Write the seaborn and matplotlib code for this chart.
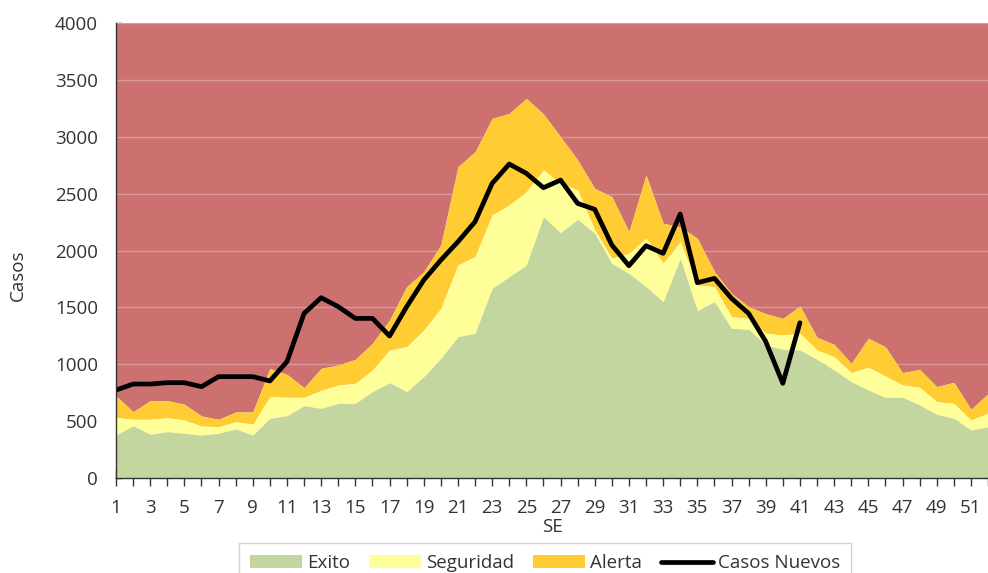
import numpy as np
import pandas as pd
import matplotlib
matplotlib.use("Agg")
import matplotlib.pyplot as plt
import seaborn as sns
from matplotlib.patches import Patch
from matplotlib.lines import Line2D

# ---- data (cumulative tops of the epidemic channel) ----
semanas = list(range(1, 53))
exito = [378, 460, 384, 407, 393, 378, 393, 431, 378, 524, 548, 636, 612, 656, 656, 759,
         838, 759, 891, 1052, 1242, 1272, 1667, 1770, 1872, 2297, 2156, 2274, 2151, 1887,
         1799, 1682, 1550, 1931, 1471, 1550, 1316, 1307, 1170, 1131, 1125, 1043, 949, 847,
         774, 709, 709, 642, 560, 524, 422, 450]
seguridad = [533, 516, 516, 530, 510, 457, 451, 495, 472, 715, 709, 709, 770, 817, 832, 949,
             1125, 1154, 1301, 1491, 1872, 1946, 2312, 2400, 2517, 2707, 2590, 2532, 2180, 1931,
             1975, 2107, 1887, 2077, 1696, 1682, 1418, 1403, 1272, 1257, 1272, 1125, 1066, 926,
             973, 897, 817, 797, 671, 656, 510, 570]
alerta = [721, 583, 680, 680, 648, 545, 516, 580, 580, 964, 911, 794, 964, 993, 1043, 1184,
          1389, 1682, 1814, 2048, 2737, 2868, 3161, 3205, 3337, 3200, 3000, 2795, 2546, 2473,
          2165, 2663, 2239, 2209, 2107, 1814, 1623, 1506, 1445, 1403, 1512, 1236, 1175, 1008,
          1228, 1154, 926, 955, 803, 841, 604, 740]
epidemia_tope = 4000
semanas_casos = list(range(1, 42))
casos_nuevos = [773, 826, 826, 838, 838, 803, 891, 891, 891, 853, 1023, 1447, 1585, 1506,
                1403, 1403, 1248, 1506, 1740, 1916, 2077, 2253, 2590, 2760, 2678, 2552, 2619,
                2414, 2362, 2048, 1866, 2042, 1975, 2321, 1717, 1755, 1579, 1447, 1200, 832, 1365]
y_ticks = list(range(0, 4001, 500))
x_ticks = list(range(1, 52, 2))

df = pd.DataFrame({"SE": semanas, "Exito": exito, "Seguridad": seguridad, "Alerta": alerta})
df_casos = pd.DataFrame({"SE": semanas_casos, "Casos": casos_nuevos})

sns.set_theme(style="white")
plt.rcParams["font.family"] = ["Open Sans", "DejaVu Sans"]

c_red = "#CC7070"
c_green = "#C4D69F"
c_yellow = "#FFFF99"
c_orange = "#FFCC33"
c_text = "#333333"
FS = 13.5

fig = plt.figure(figsize=(9.88, 5.73), dpi=100)
ax = fig.add_axes([116 / 988, 95 / 573, 872 / 988, 455 / 573])

x = df["SE"].values
ax.fill_between(x, df["Alerta"], epidemia_tope, color=c_red, lw=0, zorder=1)
for yv in y_ticks[1:]:
    ax.axhline(yv, color="#DB9A9A", lw=1, zorder=1.5)
ax.fill_between(x, df["Seguridad"], df["Alerta"], color=c_orange, lw=0, zorder=2)
ax.fill_between(x, df["Exito"], df["Seguridad"], color=c_yellow, lw=0, zorder=2)
ax.fill_between(x, 0, df["Exito"], color=c_green, lw=0, zorder=2)

sns.lineplot(data=df_casos, x="SE", y="Casos", ax=ax, color="black", lw=3.4, zorder=3,
             legend=False)

ax.set_xlim(1, 51.46)
ax.set_ylim(0, 4000)
ax.set_yticks(y_ticks)
ax.set_yticklabels([str(v) for v in y_ticks], fontsize=FS, color=c_text)
ax.set_xticks(x_ticks)
ax.set_xticklabels([str(v) for v in x_ticks], fontsize=FS, color=c_text)
ax.set_xticks(semanas, minor=True)
ax.tick_params(axis="x", which="both", direction="inout", length=11, width=1, color="#333333",
               bottom=True, pad=9.5)
ax.tick_params(axis="y", which="major", direction="in", length=4, width=1, color="#333333",
               left=True, pad=13)
for s in ["top", "right"]:
    ax.spines[s].set_visible(False)
for s in ["left", "bottom"]:
    ax.spines[s].set_color("#333333")
    ax.spines[s].set_linewidth(1)
    ax.spines[s].set_zorder(4)
ax.set_xlabel("SE", fontsize=FS, color=c_text)
ax.xaxis.set_label_coords(0.5, -(527 - 478) / 455)
ax.xaxis.label.set_verticalalignment("center")
ax.set_ylabel("Casos", fontsize=FS, color=c_text)
ax.yaxis.set_label_coords(-(116 - 18) / 872, (478 - 275) / 455)
ax.yaxis.label.set_verticalalignment("center")
ax.grid(False)

handles = [Patch(facecolor=c_green, edgecolor="none", label="Exito"),
           Patch(facecolor=c_yellow, edgecolor="none", label="Seguridad"),
           Patch(facecolor=c_orange, edgecolor="none", label="Alerta"),
           Line2D([0], [0], color="black", lw=3.4, label="Casos Nuevos")]
leg = fig.legend(handles=handles, loc="upper center", bbox_to_anchor=(545 / 988, 1 - 543 / 573),
                 ncol=4, frameon=True, fancybox=False, fontsize=FS, handlelength=2.8,
                 handleheight=0.65, columnspacing=1.0, handletextpad=0.25,
                 borderpad=0.6, borderaxespad=0, edgecolor="#C8C8C8")
leg.get_frame().set_linewidth(1)
for t in leg.get_texts():
    t.set_color(c_text)

fig.savefig("out.png", dpi=100)
